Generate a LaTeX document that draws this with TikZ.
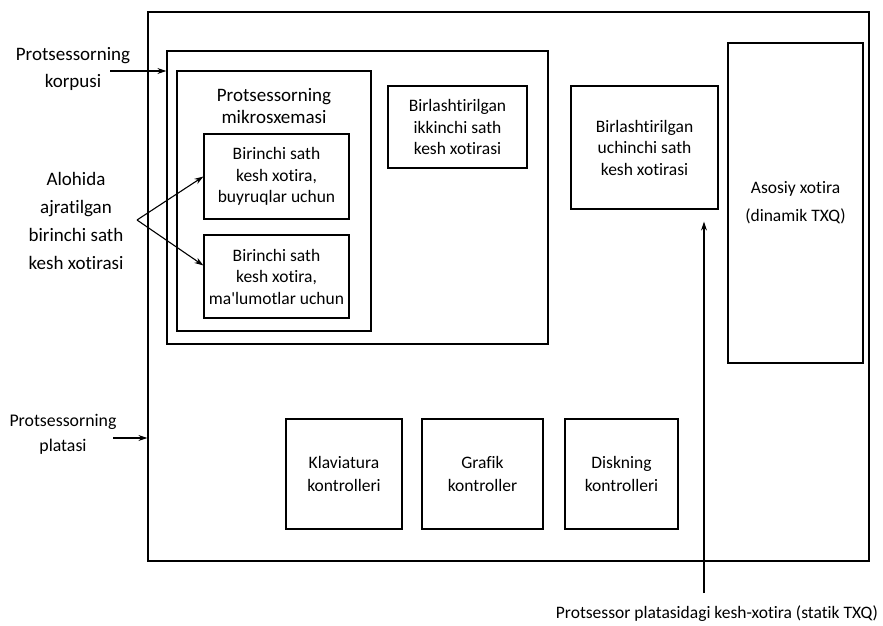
\documentclass[tikz,border=0pt]{standalone}
\usepackage{fontspec}
\setmainfont{Carlito}[Ligatures={NoCommon}]
\usetikzlibrary{arrows.meta}
\begin{document}
\begin{tikzpicture}[x=1pt,y=-1pt,
  box/.style={draw, line width=1.2pt, inner sep=0pt, align=center, font=\fontsize{17.5}{21.5}\selectfont},
  lbl/.style={align=center, inner sep=0pt, font=\fontsize{19}{27.5}\selectfont},
  arr/.style={line width=1.1pt, -{Stealth[length=9pt,width=6pt]}}]
\useasboundingbox (0,0) rectangle (883,626);
% containers
\node[box, minimum width=721, minimum height=549] (board) at (508.5,286.5) {};
\node[box, minimum width=381, minimum height=293] (korpus) at (357.5,197.5) {};
\node[box, minimum width=194, minimum height=260] (micro) at (274,201) {};
\node[lbl, font=\fontsize{19}{22}\selectfont] (microlbl) at (274,106) {Protsessorning\\mikrosxemasi};
% boxes
\node[box, minimum width=145, minimum height=85] (birA) at (276.5,176.5) {Birinchi sath\\kesh xotira,\\buyruqlar uchun};
\node[box, minimum width=145, minimum height=83] (birB) at (276.5,276.5) {Birinchi sath\\kesh xotira,\\ma\textquotesingle lumotlar uchun};
\node[box, minimum width=139, minimum height=82] (ikk) at (457.5,127) {Birlashtirilgan\\ikkinchi sath\\kesh xotirasi};
\node[box, minimum width=147, minimum height=123] (uch) at (644.5,147.5) {Birlashtirilgan\\uchinchi sath\\kesh xotirasi};
\node[box, minimum width=135, minimum height=320, font=\fontsize{17.5}{28}\selectfont] (asosiy) at (795.5,203) {Asosiy xotira\\(dinamik TXQ)};
\node[box, minimum width=116, minimum height=110, font=\fontsize{17.5}{23}\selectfont] (klav) at (344,474) {Klaviatura\\kontrolleri};
\node[box, minimum width=121, minimum height=110, font=\fontsize{17.5}{23}\selectfont] (graf) at (482.5,474) {Grafik\\kontroller};
\node[box, minimum width=113, minimum height=110, font=\fontsize{17.5}{23}\selectfont] (disk) at (621.5,474) {Diskning\\kontrolleri};
% labels
\node[lbl] (korpuslbl) at (73,69) {Protsessorning\\korpusi};
\node[lbl, font=\fontsize{19}{27.7}\selectfont] (alohida) at (76,221) {Alohida\\ajratilgan\\birinchi sath\\kesh xotirasi};
\node[lbl, font=\fontsize{17.8}{25}\selectfont] (platalbl) at (63,434) {Protsessorning\\platasi};
\node[lbl, font=\fontsize{17.5}{21}\selectfont, anchor=base] (bottomlbl) at (717,618) {Protsessor platasidagi kesh-xotira (statik TXQ)};
% connectors
\coordinate (ka) at (110,71);
\draw[arr] (ka) -- (ka -| korpus.west);
\coordinate (apex) at (137,220);
\draw[arr] (apex) -- (birA.west);
\draw[arr] (apex) -- ([yshift=11pt]birB.west);
\coordinate (pa) at (113,438);
\draw[arr] (pa) -- (pa -| board.west);
\coordinate (pb) at (704,593);
\draw[arr] (pb) -- ([yshift=-12pt]pb |- uch.south);
\end{tikzpicture}
\end{document}
